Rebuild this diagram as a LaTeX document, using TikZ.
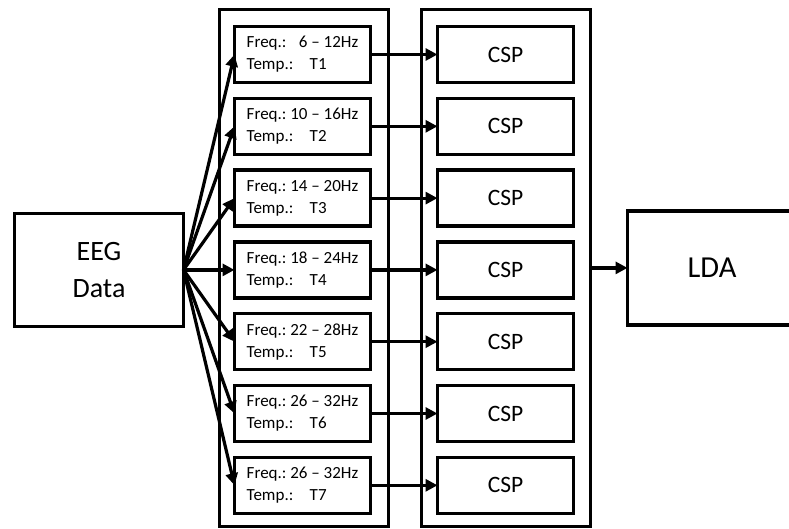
\documentclass[tikz,border=0pt]{standalone}
\usepackage{fontspec}
\setmainfont{Carlito}
\usetikzlibrary{arrows.meta, positioning, fit, backgrounds, calc}

\newcommand\bandlabel[2]{Freq.: #1\\\makebox[63pt][l]{Temp.:}#2}

\begin{document}
\frenchspacing
\begin{tikzpicture}[x=1pt, y=1pt,
  box/.style={draw=black, line width=3.5pt, minimum width=136pt, minimum height=56pt, outer sep=0pt, fill=white},
  band/.style={box, align=left, font=\fontsize{17}{22}\selectfont},
  csp/.style={box, font=\fontsize{23.5}{28}\selectfont},
  big/.style={draw=black, line width=3.5pt, minimum width=169pt, minimum height=113pt, outer sep=0pt,
              align=center, font=\fontsize{28}{37}\selectfont},
  column/.style={draw=black, line width=3.5pt, inner sep=0pt, outer sep=0pt},
  arr/.style={-{Triangle[length=12pt, width=12pt]}, line width=3.2pt, black}
]
\useasboundingbox (0,0) rectangle (789,-528);
% Frequency bands
\node[band] (f1) at (302.5,-54.5) {\bandlabel{\hphantom{1}6 -- 12Hz}{T1}};
\node[band, below=15.8pt of f1] (f2) {\bandlabel{10 -- 16Hz}{T2}};
\node[band, below=15.8pt of f2] (f3) {\bandlabel{14 -- 20Hz}{T3}};
\node[band, below=15.8pt of f3] (f4) {\bandlabel{18 -- 24Hz}{T4}};
\node[band, below=15.8pt of f4] (f5) {\bandlabel{22 -- 28Hz}{T5}};
\node[band, below=15.8pt of f5] (f6) {\bandlabel{26 -- 32Hz}{T6}};
\node[band, below=15.8pt of f6] (f7) {\bandlabel{26 -- 32Hz}{T7}};
% CSP filters
\node[csp, right=67pt of f1] (c1) {CSP};
\node[csp, right=67pt of f2] (c2) {CSP};
\node[csp, right=67pt of f3] (c3) {CSP};
\node[csp, right=67pt of f4] (c4) {CSP};
\node[csp, right=67pt of f5] (c5) {CSP};
\node[csp, right=67pt of f6] (c6) {CSP};
\node[csp, right=67pt of f7] (c7) {CSP};
% Column corners
\coordinate (bandtl) at ($(f1.north west)+(-15,17)$);
\coordinate (bandbr) at ($(f7.south east)+(18,-13)$);
\coordinate (csptl) at ($(c1.north west)+(-16,17)$);
\coordinate (cspbr) at ($(c7.south east)+(17,-13)$);
\begin{scope}[on background layer]
\node[column, fit=(bandtl)(bandbr)] (bandcol) {};
\node[column, fit=(csptl)(cspbr)] (cspcol) {};
\end{scope}
% Input and classifier
\node[big, left=51pt of f4] (eeg) {EEG\\Data};
\node[big, right=37pt of cspcol, minimum height=114pt, font=\fontsize{30.5}{36}\selectfont] (lda) {LDA};
% Arrows
\draw[arr] (eeg.east) -- (f1.west);
\draw[arr] (eeg.east) -- (f2.west);
\draw[arr] (eeg.east) -- (f3.west);
\draw[arr] (eeg.east) -- (f4.west);
\draw[arr] (eeg.east) -- (f5.west);
\draw[arr] (eeg.east) -- (f6.west);
\draw[arr] (eeg.east) -- (f7.west);
\draw[arr] (f1) -- (c1);
\draw[arr] (f2) -- (c2);
\draw[arr] (f3) -- (c3);
\draw[arr] (f4) -- (c4);
\draw[arr] (f5) -- (c5);
\draw[arr] (f6) -- (c6);
\draw[arr] (f7) -- (c7);
\draw[arr] (cspcol) -- (lda);
\end{tikzpicture}
\end{document}
